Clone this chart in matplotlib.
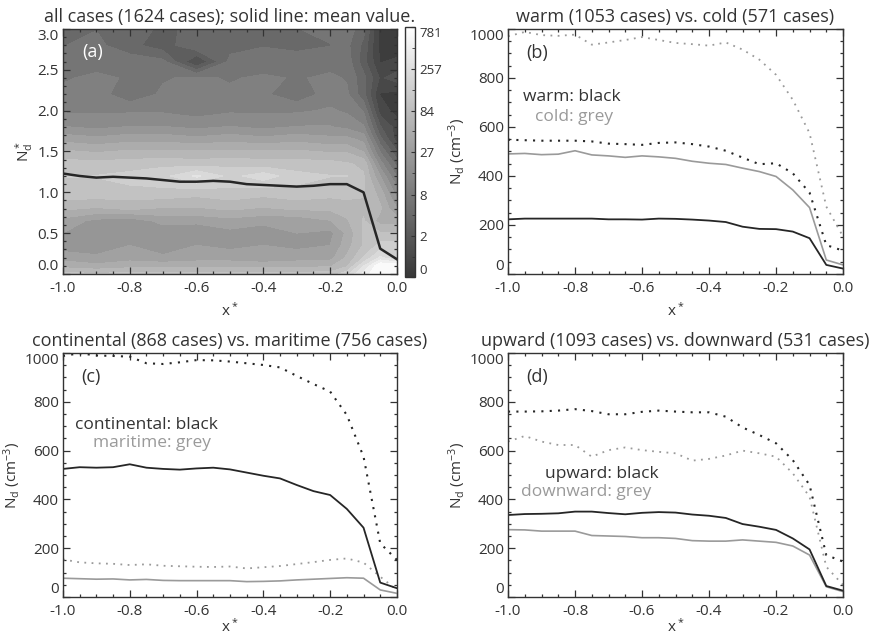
import numpy as np
import matplotlib
matplotlib.use('Agg')
import matplotlib.pyplot as plt
from matplotlib.colors import LinearSegmentedColormap, Normalize
from matplotlib.ticker import MultipleLocator, FixedLocator
import matplotlib.cm as cm

plt.rcParams['font.family'] = ['Open Sans', 'DejaVu Sans']
plt.rcParams['mathtext.fontset'] = 'custom'
plt.rcParams['mathtext.rm'] = 'Open Sans'
plt.rcParams['mathtext.it'] = 'Open Sans'

TXT = '#333333'
GREY = '#9a9a9a'
BLK = '#262626'

# x* positions of the profiles
xs = [-1.0, -0.95, -0.9, -0.85, -0.8, -0.75, -0.7, -0.65, -0.6, -0.55, -0.5,
      -0.45, -0.4, -0.35, -0.3, -0.25, -0.2, -0.15, -0.1, -0.05, 0.0]

# panel (a): mean normalized Nd
mean_all = [1.23, 1.20, 1.18, 1.19, 1.18, 1.17, 1.15, 1.13, 1.13, 1.14, 1.13,
            1.10, 1.09, 1.08, 1.07, 1.08, 1.10, 1.10, 1.00, 0.31, 0.18]

# panel (a) contour grid, values are log10(count+1)
grid_x = [-1.0, -0.9, -0.8, -0.7, -0.6, -0.5, -0.4, -0.3, -0.2, -0.15, -0.1, -0.05, 0.0]
grid_y = [0.0, 0.1, 0.2, 0.35, 0.5, 0.65, 0.8, 1.0, 1.2, 1.35, 1.5, 1.65, 1.8,
          2.0, 2.2, 2.4, 2.6, 2.8, 3.0]
counts_log = [
    [2.0, 1.95, 2.0, 2.0, 2.0, 2.0, 2.0, 2.0, 2.0, 2.2, 2.65, 2.9, 2.9],
    [1.7, 1.65, 1.7, 1.7, 1.7, 1.7, 1.7, 1.7, 1.75, 1.9, 2.4, 2.9, 2.9],
    [1.55, 1.5, 1.55, 1.5, 1.55, 1.55, 1.5, 1.55, 1.55, 1.8, 2.1, 2.45, 2.2],
    [1.35, 1.3, 1.45, 1.3, 1.45, 1.4, 1.45, 1.4, 1.45, 1.7, 1.95, 2.15, 2.15],
    [1.45, 1.35, 1.3, 1.35, 1.3, 1.4, 1.35, 1.45, 1.4, 1.65, 1.95, 1.95, 1.95],
    [1.55, 1.4, 1.35, 1.5, 1.5, 1.55, 1.5, 1.5, 1.6, 1.75, 1.95, 1.7, 1.7],
    [1.8, 1.75, 1.8, 1.75, 1.75, 1.8, 1.75, 1.8, 1.8, 1.85, 1.9, 1.8, 1.45],
    [2.05, 2.05, 2.05, 2.05, 2.0, 2.05, 2.0, 2.05, 2.0, 2.0, 1.95, 1.7, 1.2],
    [2.1, 2.1, 2.15, 2.2, 2.45, 2.2, 2.35, 2.15, 2.1, 2.1, 1.95, 1.45, 0.95],
    [2.0, 2.0, 2.0, 2.05, 2.0, 2.05, 2.0, 2.0, 2.0, 1.95, 1.9, 1.2, 0.75],
    [1.8, 1.75, 1.8, 1.8, 1.8, 1.8, 1.8, 1.8, 1.75, 1.75, 1.6, 0.95, 0.5],
    [1.55, 1.5, 1.55, 1.55, 1.5, 1.55, 1.5, 1.55, 1.5, 1.5, 1.4, 0.7, 0.25],
    [1.3, 1.25, 1.3, 1.3, 1.25, 1.3, 1.25, 1.3, 1.3, 1.25, 1.15, 0.5, 0.25],
    [1.1, 1.1, 1.1, 1.1, 1.05, 1.1, 1.1, 1.1, 1.15, 1.1, 0.95, 0.25, 0.1],
    [1.0, 1.05, 0.85, 1.0, 1.05, 1.0, 1.0, 0.85, 1.05, 1.0, 0.7, 0.15, 0.1],
    [0.95, 1.0, 0.95, 0.95, 1.0, 0.95, 1.0, 0.95, 1.0, 0.95, 0.7, 0.3, 0.4],
    [0.9, 0.9, 0.9, 0.85, 0.3, 0.85, 0.85, 0.9, 0.9, 0.9, 0.55, 0.15, 0.2],
    [0.8, 0.85, 0.7, 0.55, 0.8, 0.75, 0.8, 0.75, 0.8, 0.85, 0.6, 0.1, 0.05],
    [0.75, 0.8, 0.75, 0.6, 0.7, 0.8, 0.75, 0.8, 0.85, 0.9, 0.7, 0.1, 0.1],
]
cbar_counts = [0, 2, 8, 27, 84, 257, 781]

# panel (b)
warm_mean = [223, 226, 226, 226, 226, 226, 223, 223, 222, 226, 225, 222, 218, 212, 193, 184, 183, 173, 146, 37, 22]
cold_mean = [490, 492, 487, 489, 503, 486, 482, 476, 482, 478, 472, 460, 452, 447, 432, 418, 398, 343, 271, 57, 37]
warm_dot = [548, 546, 544, 544, 544, 541, 532, 530, 527, 535, 537, 530, 520, 503, 475, 448, 452, 411, 332, 118, 95]
cold_dot = [970, 988, 975, 972, 977, 936, 945, 955, 967, 955, 943, 938, 932, 945, 916, 875, 813, 711, 575, 275, 153]

# panel (c)
cont_mean = [525, 532, 530, 532, 544, 530, 525, 522, 527, 530, 523, 510, 497, 486, 459, 434, 418, 361, 284, 59, 36]
cont_dot = [988, 999, 990, 988, 985, 958, 955, 962, 971, 970, 965, 958, 951, 941, 906, 873, 842, 746, 575, 220, 152]
mari_mean = [77, 75, 73, 74, 70, 72, 68, 67, 67, 67, 67, 63, 64, 66, 70, 73, 76, 79, 77, 29, 15]
mari_dot = [154, 142, 138, 136, 131, 134, 128, 126, 124, 123, 125, 117, 122, 127, 135, 143, 152, 158, 141, 83, 29]

# panel (d)
up_mean = [336, 340, 341, 343, 350, 350, 344, 339, 345, 348, 346, 338, 333, 324, 299, 288, 275, 240, 195, 45, 26]
down_mean = [276, 275, 270, 270, 270, 252, 250, 248, 243, 243, 240, 231, 229, 229, 234, 229, 224, 209, 172, 42, 22]
up_dot = [760, 760, 761, 764, 770, 762, 749, 749, 759, 764, 760, 757, 757, 739, 695, 664, 630, 561, 459, 172, 145]
down_dot = [637, 660, 637, 623, 623, 575, 602, 613, 602, 595, 589, 559, 566, 580, 600, 589, 575, 507, 411, 124, 49]

fig = plt.figure(figsize=(8.72, 6.37), dpi=100)

def fix_ylabels(ax):
    # end labels sit inside the axis range, like the original
    labs = ax.get_yticklabels()
    labs[0].set_va('bottom')
    labs[-1].set_va('top')

def style_axes(ax, xpad):
    ax.set_xlim(-1.0, 0.0)
    ax.xaxis.set_minor_locator(MultipleLocator(0.05))
    ax.tick_params(which='both', direction='in', top=True, right=True,
                   colors=TXT, labelsize=11, width=0.9)
    ax.tick_params(which='major', length=5)
    ax.tick_params(which='minor', length=2.5)
    ax.tick_params(axis='x', pad=5)
    ax.tick_params(axis='y', pad=3)
    for s in ax.spines.values():
        s.set_color(TXT)
        s.set_linewidth(1.0)
    ax.set_xticks([-1.0, -0.8, -0.6, -0.4, -0.2, 0.0])
    ax.set_xticklabels(['-1.0', '-0.8', '-0.6', '-0.4', '-0.2', '0.0'])
    ax.set_xlabel(r'x$^*$', color=TXT, fontsize=11, labelpad=xpad)

# panel (a)
ax1 = fig.add_axes([0.0722, 0.5699, 0.3830, 0.3846])
cmap = LinearSegmentedColormap.from_list('g', ['#383838', '#ffffff'])
levels = np.linspace(0, 2.9, 19)
ax1.contourf(grid_x, grid_y, counts_log, levels=levels, cmap=cmap, extend='both')
ax1.plot(xs, mean_all, color=BLK, lw=1.8)
style_axes(ax1, 4)
ax1.set_ylim(0, 3.0)
ax1.yaxis.set_minor_locator(MultipleLocator(0.1))
ax1.set_yticks([0, 0.5, 1.0, 1.5, 2.0, 2.5, 3.0])
ax1.set_yticklabels(['0.0', '0.5', '1.0', '1.5', '2.0', '2.5', '3.0'])
fix_ylabels(ax1)
ax1.set_ylabel(r'N$_\mathrm{d}^*$', color=TXT, fontsize=11, labelpad=2)
ax1.set_title('all cases (1624 cases); solid line: mean value.', color=TXT,
              fontsize=13, pad=5)
ax1.text(-0.943, 2.72, '(a)', color='white', fontsize=13, va='center', ha='left')

cax = fig.add_axes([0.4644, 0.565, 0.0115, 0.392])
cb_pos = np.log10(np.array(cbar_counts) + 1)
sm = cm.ScalarMappable(norm=Normalize(0, cb_pos[-1]), cmap=cmap)
cb = fig.colorbar(sm, cax=cax)
cb.set_ticks(cb_pos)
cb.set_ticklabels([str(c) for c in cbar_counts])
cb.ax.yaxis.set_minor_locator(FixedLocator((cb_pos[:-1] + cb_pos[1:]) / 2))
cb.ax.tick_params(which='both', direction='in', colors=TXT, labelsize=9.5, pad=3)
cb.ax.tick_params(which='major', length=3)
cb.ax.tick_params(which='minor', length=2)
cb.outline.set_edgecolor(TXT)
cb.outline.set_linewidth(1.0)
fix_ylabels(cb.ax)

def line_panel(rect, xpad, title, label, black_mean, black_dot, grey_mean, grey_dot,
               t1, p1, t2, p2):
    ax = fig.add_axes(rect)
    dots = (0, (1, 3))
    ax.plot(xs, grey_dot, color=GREY, lw=1.3, ls=dots)
    ax.plot(xs, black_dot, color=BLK, lw=1.5, ls=dots)
    ax.plot(xs, grey_mean, color=GREY, lw=1.2)
    ax.plot(xs, black_mean, color=BLK, lw=1.3)
    style_axes(ax, xpad)
    ax.set_ylim(0, 1000)
    ax.set_yticks([0, 200, 400, 600, 800, 1000])
    ax.yaxis.set_minor_locator(MultipleLocator(50))
    fix_ylabels(ax)
    ax.set_ylabel(r'N$_\mathrm{d}$ (cm$^{-3}$)', color=TXT, fontsize=11, labelpad=1)
    ax.set_title(title, color=TXT, fontsize=13, pad=5)
    ax.text(-0.946, 902, label, color=TXT, fontsize=13, va='center', ha='left')
    ax.text(p1[0], p1[1], t1, color=TXT, fontsize=12.5, va='center', ha='left')
    ax.text(p2[0], p2[1], t2, color=GREY, fontsize=12.5, va='center', ha='left')
    return ax

line_panel([0.5826, 0.5699, 0.3842, 0.3846], 4, 'warm (1053 cases) vs. cold (571 cases)',
           '(b)', warm_mean, warm_dot, cold_mean, cold_dot,
           'warm: black', (-0.955, 724), 'cold: grey', (-0.919, 642))
line_panel([0.0722, 0.0628, 0.3830, 0.3830], -0.5, 'continental (868 cases) vs. maritime (756 cases)',
           '(c)', cont_mean, cont_dot, mari_mean, mari_dot,
           'continental: black', (-0.964, 707), 'maritime: grey', (-0.91, 633))
line_panel([0.5826, 0.0628, 0.3842, 0.3830], -0.5, 'upward (1093 cases) vs. downward (531 cases)',
           '(d)', up_mean, up_dot, down_mean, down_dot,
           'upward: black', (-0.89, 503), 'downward: grey', (-0.96, 431))

fig.savefig('out.png', dpi=100)
